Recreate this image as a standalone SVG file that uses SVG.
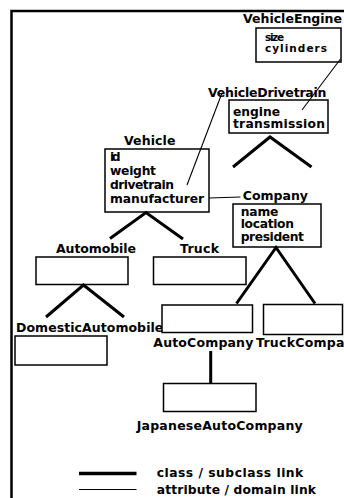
<svg xmlns="http://www.w3.org/2000/svg" width="344" height="498" viewBox="0 0 344 498">
<style>
text{font-family:"DejaVu Sans","Liberation Sans",sans-serif;font-weight:bold;fill:#000}
.lbl{font-size:12.5px}
.att{font-size:12.3px}
.sm{font-size:10.5px}
.box{fill:#fff;stroke:#000;stroke-width:1.5}
.cls{fill:none;stroke:#000;stroke-width:3;stroke-linecap:butt;stroke-linejoin:miter}
.attr{fill:none;stroke:#000;stroke-width:1.1}
.frame{fill:none;stroke:#000;stroke-width:2.5}
</style>
<rect width="344" height="498" fill="#fff"/>
<path class="frame" d="M11.5,498 V11 H344"/>

<g id="VehicleEngine">
<rect class="box" x="256" y="28" width="85" height="34"/>
<text class="lbl" x="243" y="23" textLength="99">VehicleEngine</text>
<text class="sm" x="265" y="41" textLength="19">size</text>
<text class="sm" x="265" y="51.5" textLength="62">cylinders</text>
</g>

<g id="VehicleDrivetrain">
<rect class="box" x="229" y="100" width="99" height="33"/>
<text class="lbl" x="208" y="96.5" textLength="118.5">VehicleDrivetrain</text>
<text class="att" x="233" y="115.5" textLength="47">engine</text>
<text class="att" x="233" y="128" textLength="92">transmission</text>
</g>

<g id="Vehicle">
<rect class="box" x="105" y="149" width="104" height="63"/>
<text class="lbl" x="124" y="145" textLength="51.5">Vehicle</text>
<text class="att" x="110" y="161" textLength="10.5">id</text>
<text class="att" x="110" y="174.5" textLength="46">weight</text>
<text class="att" x="110" y="188.5" textLength="64">drivetrain</text>
<text class="att" x="110" y="202.5" textLength="94">manufacturer</text>
</g>

<g id="Company">
<rect class="box" x="233" y="204" width="88" height="43"/>
<text class="lbl" x="242.7" y="199.5" textLength="65.3">Company</text>
<text class="att" x="240.7" y="215.5" textLength="37.7">name</text>
<text class="att" x="240.7" y="228" textLength="53.3">location</text>
<text class="att" x="240.7" y="240.5" textLength="63.3">president</text>
</g>

<g id="Automobile">
<rect class="box" x="36" y="257" width="92" height="27.5"/>
<text class="lbl" x="56" y="253" textLength="80">Automobile</text>
</g>

<g id="Truck">
<rect class="box" x="153.5" y="257" width="92.5" height="27.5"/>
<text class="lbl" x="180" y="253" textLength="39">Truck</text>
</g>

<g id="DomesticAutomobile">
<rect class="box" x="15" y="336" width="92" height="29"/>
<text class="lbl" x="16" y="331.5" textLength="147.3">DomesticAutomobile</text>
</g>

<g id="AutoCompany">
<rect class="box" x="162" y="305" width="90.5" height="27.5"/>
<text class="lbl" x="153.3" y="346.5" textLength="100">AutoCompany</text>
</g>

<g id="TruckCompany">
<rect class="box" x="263.5" y="304.5" width="79" height="30"/>
<text class="lbl" x="256" y="346.5" textLength="106">TruckCompany</text>
</g>

<g id="JapaneseAutoCompany">
<rect class="box" x="163.5" y="383.5" width="92.5" height="28"/>
<text class="lbl" x="136.7" y="430" textLength="166">JapaneseAutoCompany</text>
</g>

<g id="connectors">
<path class="attr" d="M340.5,59 L302,110"/>
<path class="attr" d="M222,93 L187,185"/>
<path class="attr" d="M209,198 L240.5,197"/>
<path class="cls" d="M233,167 L270,137 L311.5,167"/>
<path class="cls" d="M110,238.5 L146,212.5 L183,239"/>
<path class="cls" d="M46,317 L83.5,285 L124,317"/>
<path class="cls" d="M236.5,303.5 L276,247.5 L315,303.5"/>
<path class="cls" d="M210.7,351 V383.5"/>
</g>

<g id="legend">
<path class="cls" d="M79,473.5 H136.5" style="stroke-width:3.5"/>
<path class="attr" d="M79,489.5 H136.5"/>
<text class="att" x="156.7" y="477" textLength="146.6">class / subclass link</text>
<text class="att" x="156.7" y="493.5" textLength="159.3">attribute / domain link</text>
</g>
</svg>
